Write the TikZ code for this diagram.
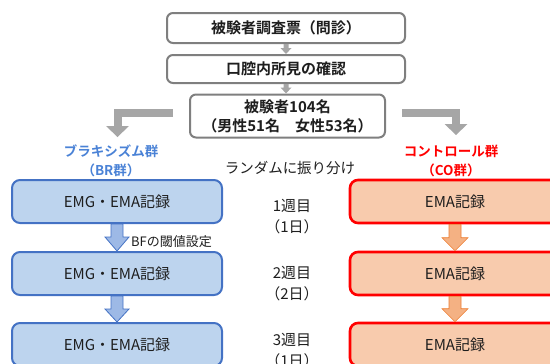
\documentclass[tikz,border=0pt]{standalone}
\usepackage{fontspec}
\setmainfont{Noto Sans CJK JP}[BoldFont={Noto Sans CJK JP Bold}]
\usetikzlibrary{calc}
\definecolor{grayline}{HTML}{7F7F7F}
\definecolor{grayarrow}{HTML}{A6A6A6}
\definecolor{blueline}{HTML}{4472C4}
\definecolor{bluefill}{HTML}{BDD4EE}
\definecolor{bluearrowfill}{HTML}{9DB9E6}
\definecolor{bluetext}{HTML}{4A82D6}
\definecolor{redline}{HTML}{FF0000}
\definecolor{redfill}{HTML}{F8CBAD}
\definecolor{orangearrowfill}{HTML}{F4B183}
\definecolor{orangeline}{HTML}{ED7D31}
\definecolor{textdark}{HTML}{1E1E1E}
\newcommand{\blkarrow}[6]{%
  \path[#1] let \p1=(#2), \p2=(#3) in
    (\x1-#4pt,\y1) -- (\x1+#4pt,\y1) -- (\x1+#4pt,\y2+#6pt) -- (\x1+#5pt,\y2+#6pt)
    -- (\x1,\y2) -- (\x1-#5pt,\y2+#6pt) -- (\x1-#4pt,\y2+#6pt) -- cycle;}
\tikzset{
  graybox/.style={draw=grayline, line width=2pt, fill=white, rounded corners=6pt,
    text=textdark, font=\fontsize{15}{19}\selectfont\bfseries, align=center, inner sep=0pt},
  bluebox/.style={draw=blueline, line width=2pt, fill=bluefill, rounded corners=8pt,
    minimum width=210pt, minimum height=43pt, text=textdark,
    font=\fontsize{15}{18}\selectfont, inner sep=0pt},
  redbox/.style={draw=redline, line width=2.6pt, fill=redfill, rounded corners=8pt,
    minimum width=210pt, minimum height=43pt, text=textdark,
    font=\fontsize{15}{18}\selectfont, inner sep=0pt},
  grouplabel/.style={font=\fontsize{13.5}{19}\selectfont\bfseries, align=center, inner sep=0pt},
  plainlabel/.style={text=textdark, font=\fontsize{15}{21}\selectfont, align=center, inner sep=0pt},
  smallgray/.style={fill=grayarrow},
  bluearrow/.style={fill=bluearrowfill, draw=blueline, line width=0.8pt, line join=miter},
  orangearrow/.style={fill=orangearrowfill, draw=orangeline, line width=0.6pt, line join=miter},
  elbow/.style={draw=grayarrow, line width=8pt},
}
\begin{document}
\begin{tikzpicture}[x=1pt,y=-1pt]
\useasboundingbox (0,0) rectangle (550,364);
\clip (0,0) rectangle (550,364);

% top flow
\node[graybox, minimum width=238pt, minimum height=30pt] (q) at (286,28) {被験者調査票（問診）};
\node[graybox, minimum width=238pt, minimum height=28pt] (o) at (286,69) {口腔内所見の確認};
\node[graybox, minimum width=195pt, minimum height=43pt] (s) at (287.5,116) {被験者104名\\（男性51名　女性53名）};

\blkarrow{smallgray}{q.south}{o.north}{2.5}{5.5}{6}
\blkarrow{smallgray}{o.south}{s.north}{2.5}{5.5}{6}

% group labels
\node[grouplabel, text=bluetext] (br) at (111,161) {ブラキシズム群\\（BR群）};
\node[grouplabel, text=redline] (co) at (451,161) {コントロール群\\（CO群）};
\node[plainlabel, font=\fontsize{14.5}{18}\selectfont] (rand) at (290,168) {ランダムに振り分け};

% elbow arrows
\coordinate (lA) at (173,113);
\coordinate (lB) at (117.5,126);
\coordinate (rA) at (402,113);
\coordinate (rB) at (456,124);
\draw[elbow] (lA) -| (lB);
\fill[grayarrow] let \p1=(lB) in (\x1-11.5pt,\y1) -- (\x1+11.5pt,\y1) -- (\x1,\y1-11pt) -- cycle;
\draw[elbow] (rA) -| (rB);
\fill[grayarrow] let \p1=(rB) in (\x1-11.5pt,\y1) -- (\x1+11.5pt,\y1) -- (\x1,\y1-11pt) -- cycle;

% blue column
\node[bluebox] (b1) at (117,201.5) {EMG・EMA記録};
\node[bluebox] (b2) at (117,273.5) {EMG・EMA記録};
\node[bluebox] (b3) at (117,344.5) {EMG・EMA記録};
\blkarrow{bluearrow}{b1.south}{b2.north}{6}{12}{14}
\blkarrow{bluearrow}{b2.south}{b3.north}{6}{12}{13}
\node[anchor=west, text=textdark, font=\fontsize{13}{15}\selectfont, inner sep=0pt] (bf) at (131,242) {BFの閾値設定};

% red column
\node[redbox] (r1) at (455,201.5) {EMA記録};
\node[redbox] (r2) at (455,273.5) {EMA記録};
\node[redbox] (r3) at (455,344.5) {EMA記録};
\blkarrow{orangearrow}{r1.south}{r2.north}{6}{13}{13}
\blkarrow{orangearrow}{r2.south}{r3.north}{6}{13}{13}

% week labels
\node[plainlabel] (w1) at (292,217) {1週目\\（1日）};
\node[plainlabel] (w2) at (292,284) {2週目\\（2日）};
\node[plainlabel] (w3) at (292,351) {3週目\\（1日）};
\end{tikzpicture}
\end{document}
